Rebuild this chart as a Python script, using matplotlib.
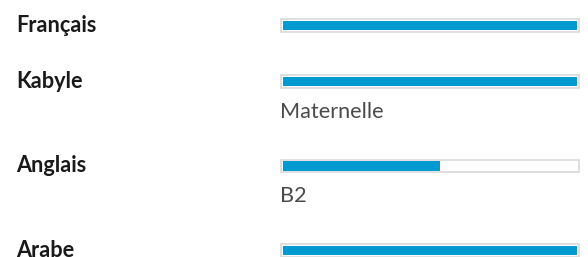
import matplotlib
matplotlib.use('Agg')
import matplotlib.pyplot as plt

# languages, level (percent of bar) and optional level label
languages = ['Français', 'Kabyle', 'Anglais', 'Arabe']
levels = [100, 100, 54, 100]
level_labels = ['', 'Maternelle', 'B2', '']

W, H = 588, 257
fig = plt.figure(figsize=(W / 100, H / 100), dpi=100)
ax = fig.add_axes([0, 0, 1, 1])
ax.set_xlim(0, W)
ax.set_ylim(H, 0)
ax.axis('off')

track_left, track_w = 281, 298
fill_color = '#0099d0'

# row positions: base pitch plus extra space when a level label sits under the bar
ys = []
y = 25.5
for lab in level_labels:
    ys.append(y)
    y += 56 + (28.5 if lab else 0)

ax.barh(ys, [track_w] * len(ys), left=track_left, height=12.5,
        color='white', edgecolor='#dcdcdc', linewidth=1.3)
ax.barh(ys, [track_w * v / 100 - 4 for v in levels], left=track_left + 2,
        height=9.5, color=fill_color, linewidth=0)

for yy, name, lab in zip(ys, languages, level_labels):
    ax.text(16, yy, name, fontsize=15.6, fontweight='bold', family='Lato',
            color='#1a1a1a', va='center', ha='left')
    if lab:
        ax.text(280.5, yy + 30, lab, fontsize=15.6, family='Lato',
                color='#4a4a4a', va='center', ha='left')

fig.savefig('out.png', dpi=100, facecolor='white')
